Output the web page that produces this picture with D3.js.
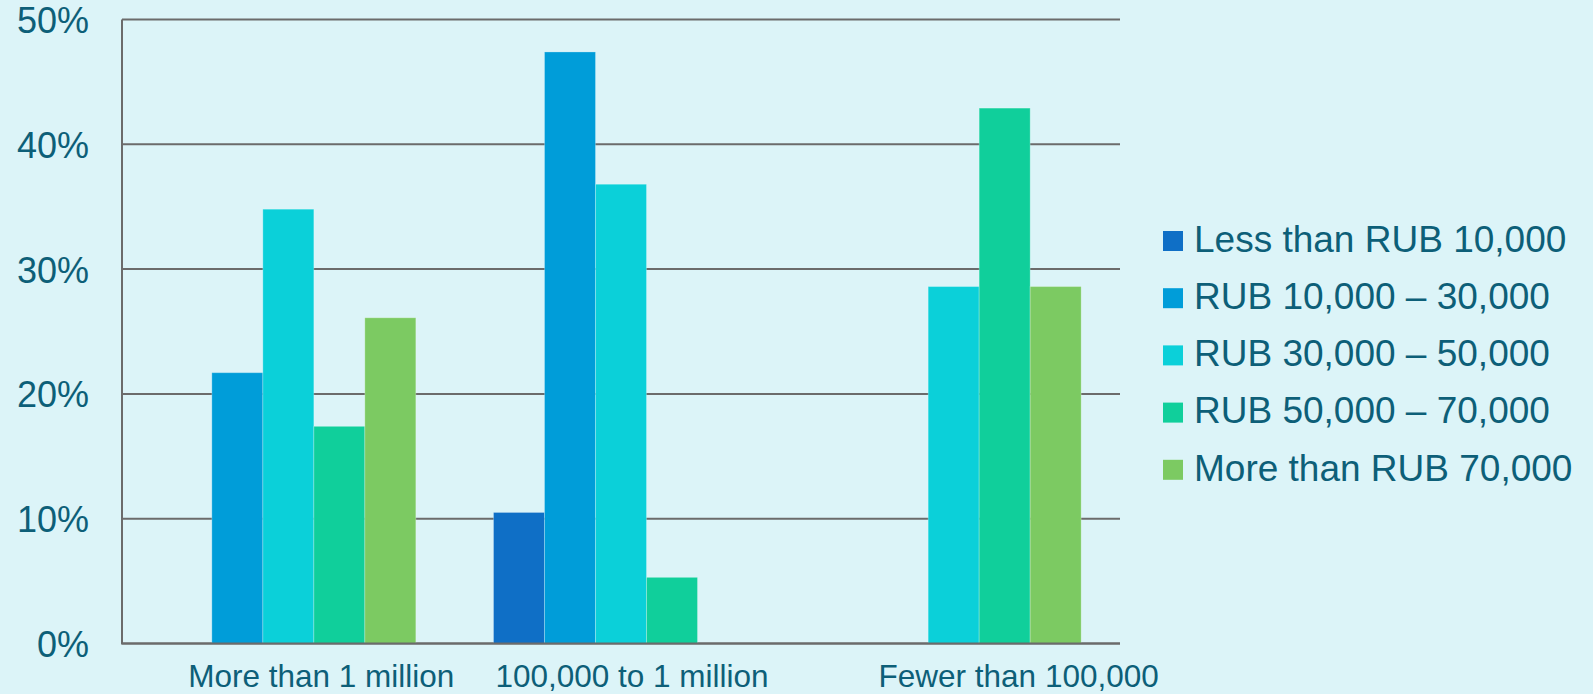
<!DOCTYPE html>
<html>
<head>
<meta charset="utf-8">
<script src="https://cdn.jsdelivr.net/npm/d3@7"></script>
<style>
  html, body { margin: 0; padding: 0; background: #dcf4f8; }
  svg { display: block; }
  text { font-family: "Liberation Sans", Arial, sans-serif; fill: #0d5f78; }
</style>
</head>
<body>
<svg id="chart" width="1593" height="694"></svg>
<script>
// Settlement size groups along the x axis
const categories = ["More than 1 million", "100,000 to 1 million", "Fewer than 100,000"];

// Income brackets (one bar per bracket within each group)
const series = [
  "Less than RUB 10,000",
  "RUB 10,000 \u2013 30,000",
  "RUB 30,000 \u2013 50,000",
  "RUB 50,000 \u2013 70,000",
  "More than RUB 70,000"
];

// Share of respondents, % (rows follow series, columns follow categories)
const lessThan10k   = [0,    10.5, 0];
const from10kTo30k  = [21.7, 47.4, 0];
const from30kTo50k  = [34.8, 36.8, 28.6];
const from50kTo70k  = [17.4, 5.3,  42.9];
const moreThan70k   = [26.1, 0,    28.6];

const yTicks = [0, 10, 20, 30, 40, 50];

const values = [lessThan10k, from10kTo30k, from30kTo50k, from50kTo70k, moreThan70k];
const colors = ["#0f6fc6", "#009dd9", "#0bd0d9", "#10cf9b", "#7cca62"];

const svg = d3.select("#chart");
const plot = { left: 122, right: 1120, top: 19.5, bottom: 643.5 };

const x0 = d3.scaleBand()
  .domain(categories)
  .range([plot.left, plot.right])
  .paddingInner(0.2335)
  .paddingOuter(0.2335 / 2);

const x1 = d3.scaleBand()
  .domain(series)
  .range([0, x0.bandwidth()]);

const y = d3.scaleLinear().domain([0, 50]).range([plot.bottom, plot.top]);

// Horizontal gridlines
svg.append("g")
  .selectAll("line")
  .data(yTicks)
  .join("line")
  .attr("x1", plot.left)
  .attr("x2", plot.right)
  .attr("y1", d => y(d))
  .attr("y2", d => y(d))
  .attr("stroke", "#6b6b6b")
  .attr("stroke-width", 2);

// Y tick labels
svg.append("g")
  .selectAll("text")
  .data(yTicks)
  .join("text")
  .attr("x", 89)
  .attr("y", d => y(d) + 13.5)
  .attr("text-anchor", "end")
  .attr("font-size", 36)
  .text(d => d + "%");

// Bars
const rows = [];
series.forEach((s, si) => {
  categories.forEach((c, ci) => {
    rows.push({ series: s, category: c, value: values[si][ci], color: colors[si] });
  });
});

svg.append("g")
  .selectAll("rect")
  .data(rows.filter(d => d.value > 0))
  .join("rect")
  .attr("x", d => x0(d.category) + x1(d.series))
  .attr("width", x1.bandwidth())
  .attr("y", d => y(d.value))
  .attr("height", d => y(0) - y(d.value))
  .attr("fill", d => d.color)
  .attr("stroke", "rgba(255,255,255,0.25)")
  .attr("stroke-width", 1);

// Axis lines (vertical axis + baseline) drawn over the bars
svg.append("line")
  .attr("x1", plot.left).attr("x2", plot.left)
  .attr("y1", plot.top).attr("y2", plot.bottom)
  .attr("stroke", "#6b6b6b").attr("stroke-width", 2);
svg.append("line")
  .attr("x1", plot.left - 1).attr("x2", plot.right)
  .attr("y1", plot.bottom).attr("y2", plot.bottom)
  .attr("stroke", "#6b6b6b").attr("stroke-width", 2);

// Category labels (shifted per group as in the layout of the source slide)
const labelShift = [33, 11, 65];
svg.append("g")
  .selectAll("text")
  .data(categories)
  .join("text")
  .attr("x", (d, i) => x0(d) + x0.bandwidth() / 2 + labelShift[i])
  .attr("y", 687)
  .attr("text-anchor", "middle")
  .attr("font-size", 31.5)
  .text(d => d);

// Legend
const legend = svg.append("g").attr("transform", "translate(1163,231)");
const item = legend.selectAll("g")
  .data(series)
  .join("g")
  .attr("transform", (d, i) => `translate(0,${i * 57.2})`);
item.append("rect")
  .attr("width", 20).attr("height", 20)
  .attr("fill", (d, i) => colors[i]);
item.append("text")
  .attr("x", 31)
  .attr("y", 20.7)
  .attr("font-size", 37)
  .text(d => d);
</script>
</body>
</html>
